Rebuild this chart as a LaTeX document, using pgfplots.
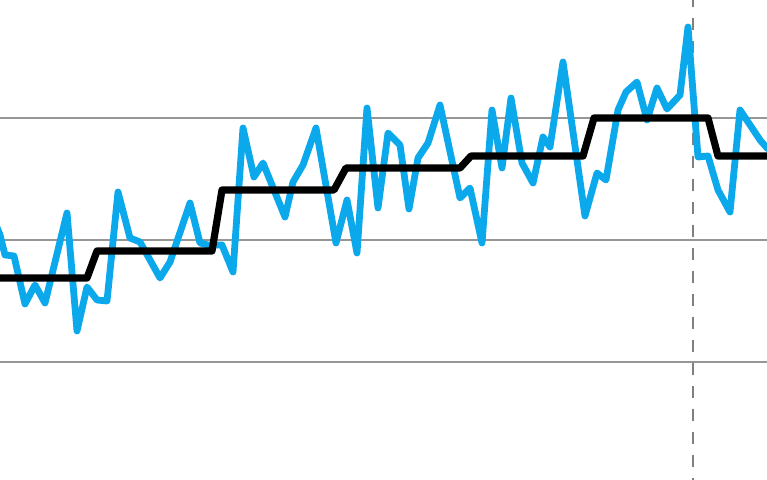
\documentclass[border=0pt]{standalone}
\usepackage{pgfplots}
\pgfplotsset{compat=1.18}
\definecolor{seriesblue}{RGB}{12,168,236}
\definecolor{gridgray}{RGB}{150,150,150}
\begin{document}
\begin{tikzpicture}
\begin{axis}[
    scale only axis,
    width=383.5pt,
    height=240pt,
    xmin=0, xmax=767,
    ymin=0, ymax=480,
    y dir=reverse,
    axis lines=none,
    ticks=none,
    clip=true,
]
% horizontal grid
\addplot[gridgray, line width=0.6pt] coordinates {(-10,118) (780,118)};
\addplot[gridgray, line width=0.6pt] coordinates {(-10,240) (780,240)};
\addplot[gridgray, line width=0.6pt] coordinates {(-10,362) (780,362)};
% dashed marker
\addplot[gray, line width=1pt, dash pattern=on 6pt off 5.5pt] coordinates {(693,-5) (693,485)};
% noisy series
\addplot[seriesblue, line width=3.4pt, line join=round] coordinates {
    (-4,225) (0,235) (5,255) (14,256) (25,304) (35,285) (45,303) (67,213)
    (77,331) (87,287) (97,300) (107,301) (118,192) (130,238) (140,242)
    (160,278) (170,262) (190,203) (200,243) (208,245) (222,245) (233,272)
    (243,128) (254,177) (263,163) (285,217) (293,182) (303,165) (316,128)
    (336,243) (347,200) (357,253) (367,108) (378,208) (388,133) (400,145)
    (409,209) (418,158) (428,143) (440,105) (460,198) (470,188) (482,243)
    (492,110) (502,168) (511,98) (522,163) (533,183) (543,137) (550,147)
    (563,62) (585,216) (597,173) (606,180) (618,110) (626,92) (637,82)
    (647,120) (657,88) (667,109) (680,95) (688,27) (698,157) (708,156)
    (718,190) (730,212) (740,110) (760,140) (767,148) (775,152)
};
% step series
\addplot[black, line width=3.6pt, line join=round] coordinates {
    (-10,278) (87,278) (97,251) (212,251) (222,190) (334,190) (346,168)
    (460,168) (471,156) (583,156) (594,118) (708,118) (718,156) (780,156)
};
\end{axis}
\end{tikzpicture}
\end{document}
